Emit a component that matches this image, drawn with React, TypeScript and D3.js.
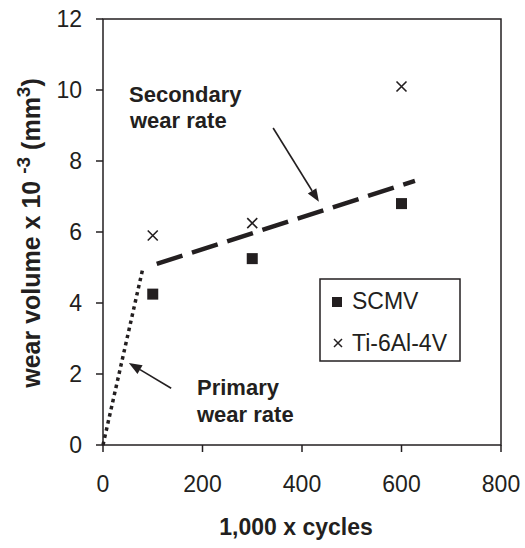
import React from 'react';
import * as d3 from 'd3';

const cycles = [100, 300, 600];
const scmv = [4.25, 5.25, 6.8];
const ti = [5.9, 6.25, 10.1];
const xTicks = [0, 200, 400, 600, 800];
const yTicks = [0, 2, 4, 6, 8, 10, 12];
const primaryFit: [number, number][] = [[0, 0], [80, 4.97]];
const secondaryFit: [number, number][] = [[108, 5.1], [627, 7.44]];
const primaryArrow: [number, number][] = [[137, 1.6], [52, 2.31]];
const secondaryArrow: [number, number][] = [[342, 8.93], [434, 6.85]];
const legendItems = ['SCMV', 'Ti-6Al-4V'];

const W = 525, H = 548;
const INK = '#231f20';
const FONT = '"Liberation Sans", Arial, sans-serif';

export default function App() {
  const x = d3.scaleLinear().domain([0, 800]).range([103, 501]);
  const y = d3.scaleLinear().domain([0, 12]).range([445, 19]);
  const line = d3.line<[number, number]>().x(d => x(d[0])).y(d => y(d[1]));

  const arrow = (pts: [number, number][], key: string) => {
    const [x0, y0] = [x(pts[0][0]), y(pts[0][1])];
    const [x1, y1] = [x(pts[1][0]), y(pts[1][1])];
    const ang = Math.atan2(y1 - y0, x1 - x0);
    const L = 13, hw = 5;
    const bx = x1 - L * Math.cos(ang), by = y1 - L * Math.sin(ang);
    const px = -Math.sin(ang) * hw, py = Math.cos(ang) * hw;
    return (
      <g key={key}>
        <line x1={x0} y1={y0} x2={bx} y2={by} stroke={INK} strokeWidth={1.6} />
        <polygon points={`${x1},${y1} ${bx + px},${by + py} ${bx - px},${by - py}`} fill={INK} />
      </g>
    );
  };

  const sq = 11, cr = 5;
  return (
    <svg width={W} height={H} style={{ position: 'absolute', left: 0, top: 0, background: '#fff' }} fontFamily={FONT}>
      {/* frame */}
      <rect x={x(0)} y={y(12)} width={x(800) - x(0)} height={y(0) - y(12)} fill="none" stroke={INK} strokeWidth={1.5} />
      {/* x ticks */}
      {xTicks.map(t => (
        <g key={'x' + t}>
          <line x1={x(t)} x2={x(t)} y1={y(0)} y2={y(0) + 7} stroke={INK} strokeWidth={1.5} />
          <text x={x(t)} y={y(0) + 47} textAnchor="middle" fontSize={23} fill={INK}>{t}</text>
        </g>
      ))}
      {yTicks.map(t => (
        <g key={'y' + t}>
          <line x1={x(0) - 7} x2={x(0)} y1={y(t)} y2={y(t)} stroke={INK} strokeWidth={1.5} />
          <text x={82} y={y(t) + 8} textAnchor="end" fontSize={23} fill={INK}>{t}</text>
        </g>
      ))}
      {/* axis titles */}
      <text x={296} y={535} textAnchor="middle" fontSize={23} fontWeight="bold" fill={INK}>1,000 x cycles</text>
      <text transform={`translate(40,${(y(0) + y(12)) / 2 + 1}) rotate(-90)`} textAnchor="middle" fontSize={25} fontWeight="bold" fill={INK}>
        wear volume x 10 <tspan dy={-10} fontSize={19}>-3</tspan><tspan dy={10}> (mm</tspan><tspan dy={-10} fontSize={19}>3</tspan><tspan dy={10}>)</tspan>
      </text>
      {/* fit lines */}
      <path d={line(primaryFit) || ''} fill="none" stroke={INK} strokeWidth={3.5} strokeDasharray="3.5,3.8" />
      <path d={line(secondaryFit) || ''} fill="none" stroke={INK} strokeWidth={4.5} strokeDasharray="27,10" />
      {/* data */}
      {cycles.map((c, i) => (
        <rect key={'s' + i} x={x(c) - sq / 2} y={y(scmv[i]) - sq / 2} width={sq} height={sq} fill={INK} />
      ))}
      {cycles.map((c, i) => (
        <path key={'t' + i} d={`M${x(c) - cr},${y(ti[i]) - cr}L${x(c) + cr},${y(ti[i]) + cr}M${x(c) - cr},${y(ti[i]) + cr}L${x(c) + cr},${y(ti[i]) - cr}`} stroke={INK} strokeWidth={1.6} />
      ))}
      {/* annotations */}
      {arrow(secondaryArrow, 'a2')}
      {arrow(primaryArrow, 'a1')}
      <text x={129} y={102} fontSize={22} fontWeight="bold" fill={INK}>Secondary</text>
      <text x={130} y={128} fontSize={22} fontWeight="bold" fill={INK}>wear rate</text>
      <text x={197} y={395} fontSize={22} fontWeight="bold" fill={INK}>Primary</text>
      <text x={197} y={422} fontSize={22} fontWeight="bold" fill={INK}>wear rate</text>
      {/* legend */}
      <rect x={320} y={279} width={140} height={82} fill="#fff" stroke={INK} strokeWidth={1.5} />
      <rect x={337 - 5} y={302 - 5} width={10} height={10} fill={INK} />
      <path d={`M${338 - 4},${343 - 4}L${338 + 4},${343 + 4}M${338 - 4},${343 + 4}L${338 + 4},${343 - 4}`} stroke={INK} strokeWidth={1.5} />
      <text x={352} y={309} fontSize={23} fill={INK}>{legendItems[0]}</text>
      <text x={352} y={351} fontSize={23} fill={INK}>{legendItems[1]}</text>
    </svg>
  );
}
